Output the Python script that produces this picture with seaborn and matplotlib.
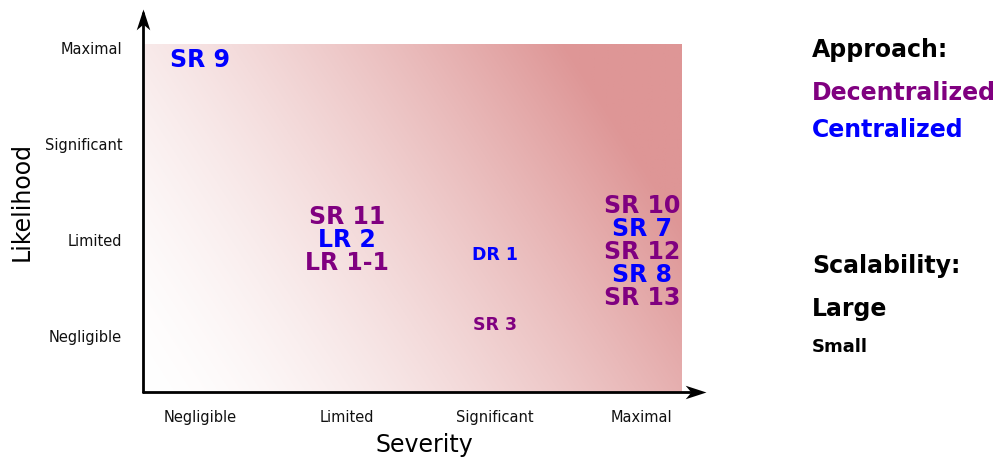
import numpy as np
import matplotlib.pyplot as plt
import seaborn as sns
from matplotlib.path import Path

sns.set_theme(style="white")
plt.rcParams['font.family'] = ['DejaVu Sans']

# Risk matrix data
levels = ["Negligible", "Limited", "Significant", "Maximal"]

labels = ["SR 9", "SR 11", "LR 2", "LR 1-1", "DR 1", "SR 3",
          "SR 10", "SR 7", "SR 12", "SR 8", "SR 13"]
severity = ["Negligible", "Limited", "Limited", "Limited", "Significant", "Significant",
            "Maximal", "Maximal", "Maximal", "Maximal", "Maximal"]
likelihood = ["Maximal", "Limited", "Limited", "Limited", "Limited", "Negligible",
              "Limited", "Limited", "Limited", "Limited", "Limited"]
approach = ["Centralized", "Decentralized", "Centralized", "Decentralized", "Centralized",
            "Decentralized", "Decentralized", "Centralized", "Decentralized", "Centralized",
            "Decentralized"]
scalability = ["Large", "Large", "Large", "Large", "Small", "Small",
               "Large", "Large", "Large", "Large", "Large"]

approach_colors = {"Decentralized": "#800080", "Centralized": "#0000ff"}
scal_sizes = {"Large": 17, "Small": 12.5}
# small vertical nudges (pixels, positive = down) per cell, purely for layout
cell_nudge = {("Negligible", "Maximal"): 12, ("Significant", "Limited"): 15,
              ("Significant", "Negligible"): -11, ("Maximal", "Limited"): 12}

fig = plt.figure(figsize=(10.01, 4.64), dpi=100)
ax = fig.add_axes([143 / 1001, 71 / 464, 563 / 1001, 383 / 464])
ax.set_xlim(-0.387, 3.435)
ax.set_ylim(-0.594, 3.396)

# gradient background (white bottom-left -> rose top-right)
x0, x1, y0, y1 = -0.373, 3.272, -0.594, 3.031
U, V = np.meshgrid(np.linspace(0, 1, 500), np.linspace(0, 1, 350))
s = 0.00155 * (U * 537) + 0.001 * (V * 348)
t = np.clip(s, 0, 1) ** 1.5
c_hi = np.array([222, 150, 150]) / 255
img = (1 - t[..., None]) * 1.0 + t[..., None] * c_hi
ax.imshow(img, extent=(x0, x1, y0, y1), origin="lower", aspect="auto",
          interpolation="bilinear", zorder=0)

# axes with stealth arrowheads
for spine in ax.spines.values():
    spine.set_visible(False)
head = np.array([(0, 0), (-2.0, 0.65), (-1.45, 0), (-2.0, -0.65), (0, 0)])
codes = [Path.MOVETO, Path.LINETO, Path.LINETO, Path.LINETO, Path.CLOSEPOLY]
head_r = Path(head, codes)
head_u = Path(head[:, ::-1], codes)
ax.plot([0, 0.99], [0, 0], color="black", lw=2, transform=ax.transAxes, clip_on=False)
ax.plot([0, 0], [0, 0.99], color="black", lw=2, transform=ax.transAxes, clip_on=False)
ax.plot([1], [0], marker=head_r, markersize=30, color="black", mew=0,
        transform=ax.transAxes, clip_on=False)
ax.plot([0], [1], marker=head_u, markersize=30, color="black", mew=0,
        transform=ax.transAxes, clip_on=False)

ax.set_xticks(range(len(levels)), levels, fontsize=10.5, color="#111111")
ax.set_yticks(range(len(levels)), levels, fontsize=10.5, color="#111111")
ax.tick_params(axis="x", length=0, pad=12)
ax.tick_params(axis="y", length=0, pad=15)
ax.set_xlabel("Severity", fontsize=17, labelpad=6, color="black")
ax.set_ylabel("Likelihood", fontsize=17, labelpad=8, color="black")
ax.grid(False)

# place labels, stacking items that share a cell
cells = {}
for i, lab in enumerate(labels):
    cells.setdefault((severity[i], likelihood[i]), []).append(i)

line_px = 23
for (sev, lik), idx in cells.items():
    n = len(idx)
    nudge = cell_nudge.get((sev, lik), 0)
    for k, i in enumerate(idx):
        off_px = (k - (n - 1) / 2) * line_px + nudge
        ax.annotate(labels[i], xy=(levels.index(sev), levels.index(lik)),
                    xytext=(0, -off_px * 0.72), textcoords="offset points",
                    ha="center", va="center", fontsize=scal_sizes[scalability[i]],
                    fontweight="bold", color=approach_colors[approach[i]])

# legend text on the right
lx = 812 / 1001
fig.text(lx, 1 - 50 / 464, "Approach:", fontsize=17, fontweight="bold", va="center", color="black")
for name, ypx in zip(["Decentralized", "Centralized"], [93, 130]):
    fig.text(lx, 1 - ypx / 464, name, fontsize=17, fontweight="bold", va="center",
             color=approach_colors[name])
fig.text(lx, 1 - 266 / 464, "Scalability:", fontsize=17, fontweight="bold", va="center", color="black")
for name, ypx in zip(["Large", "Small"], [309, 347]):
    fig.text(lx, 1 - ypx / 464, name, fontsize=scal_sizes[name] if name == "Large" else 13,
             fontweight="bold", va="center", color="black")

fig.savefig("out.png", dpi=100)
